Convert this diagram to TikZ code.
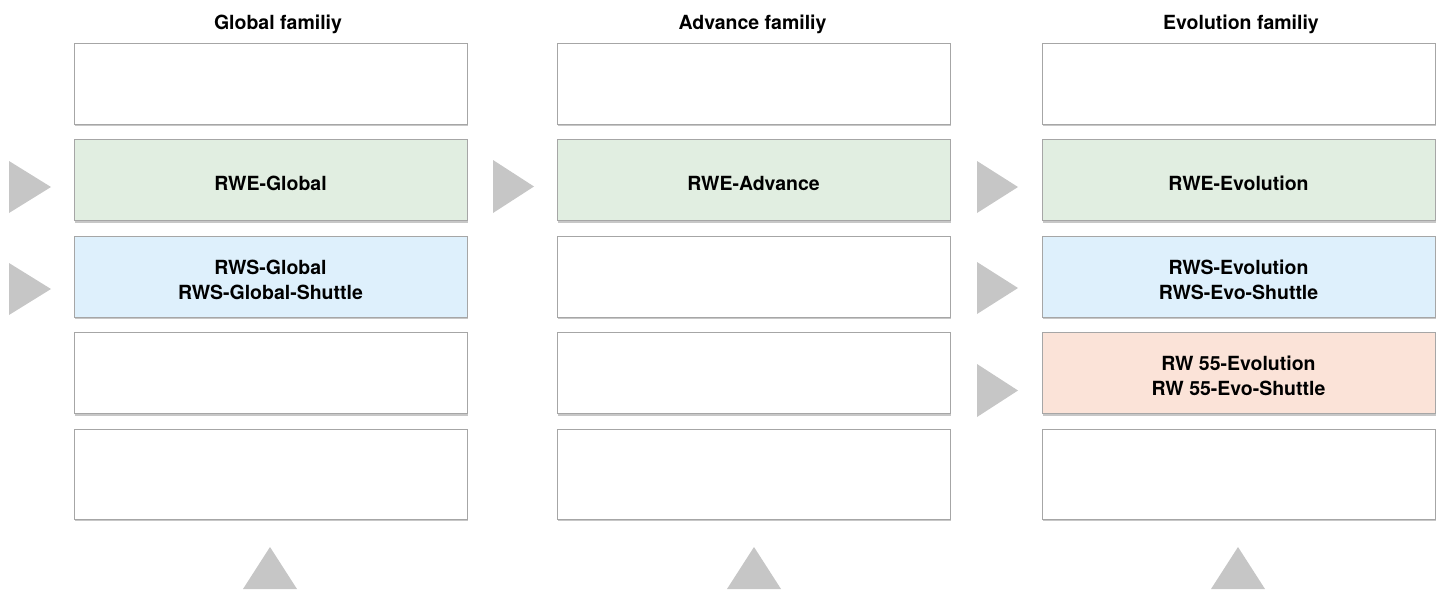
\documentclass[tikz,border=0pt]{standalone}
\usepackage{fontspec}
\setmainfont{TeX Gyre Heros}
\usetikzlibrary{shadows}
\definecolor{boxline}{HTML}{A6A6A6}
\definecolor{greenfill}{HTML}{E1EEE1}
\definecolor{bluefill}{HTML}{DEF0FC}
\definecolor{salmonfill}{HTML}{FBE3D8}
\definecolor{trigray}{HTML}{C6C6C6}
\tikzset{
  box/.style={draw=boxline, line width=1pt, fill=white, minimum width=393pt, minimum height=81pt,
    inner sep=0pt,
    drop shadow={shadow xshift=1pt, shadow yshift=-2pt, opacity=0.22, fill=black}},
  boxtext/.style={align=center, inner sep=0pt, font=\fontsize{19.5}{25}\selectfont\bfseries},
  title/.style={anchor=base, font=\fontsize{19.5}{25}\selectfont\bfseries},
  tri/.style={fill=trigray, draw=none}
}
\begin{document}
\begin{tikzpicture}[x=1pt,y=-1pt]
\useasboundingbox (0,0) rectangle (1442,592);
% titles
\node[title] (t1) at (278,29) {Global familiy};
\node[title] (t2) at (752.5,29) {Advance familiy};
\node[title] (t3) at (1241,29) {Evolution familiy};
% column 1
\node[box] (a1) at (270.5,83.5) {};
\node[box, fill=greenfill] (a2) at (270.5,180) {};
\node[box, fill=bluefill] (a3) at (270.5,276.5) {};
\node[box] (a4) at (270.5,373) {};
\node[box, minimum height=90pt] (a5) at (270.5,474) {};
% column 2
\node[box] (b1) at (753.5,83.5) {};
\node[box, fill=greenfill] (b2) at (753.5,180) {};
\node[box] (b3) at (753.5,276.5) {};
\node[box] (b4) at (753.5,373) {};
\node[box, minimum height=90pt] (b5) at (753.5,474) {};
% column 3
\node[box] (c1) at (1238.5,83.5) {};
\node[box, fill=greenfill] (c2) at (1238.5,180) {};
\node[box, fill=bluefill] (c3) at (1238.5,276.5) {};
\node[box, fill=salmonfill] (c4) at (1238.5,373) {};
\node[box, minimum height=90pt] (c5) at (1238.5,474) {};
% box texts
\node[boxtext] (a2t) at ([yshift=-3pt]a2.center) {RWE-Global};
\node[boxtext] (a3t) at ([yshift=-3pt]a3.center) {RWS-Global\\RWS-Global-Shuttle};
\node[boxtext] (b2t) at ([yshift=-3pt]b2.center) {RWE-Advance};
\node[boxtext] (c2t) at ([yshift=-3pt]c2.center) {RWE-Evolution};
\node[boxtext] (c3t) at ([yshift=-3pt]c3.center) {RWS-Evolution\\RWS-Evo-Shuttle};
\node[boxtext] (c4t) at ([yshift=-3pt]c4.center) {RW 55-Evolution\\RW 55-Evo-Shuttle};
% right-pointing triangles
\fill[tri] (9,161) -- (51,187) -- (9,213) -- cycle;
\fill[tri] (9,263) -- (51,289) -- (9,315) -- cycle;
\fill[tri] (493,160) -- (534,186.5) -- (493,213) -- cycle;
\fill[tri] (977,161) -- (1018,187) -- (977,213) -- cycle;
\fill[tri] (977,262) -- (1018,288) -- (977,314) -- cycle;
\fill[tri] (977,364) -- (1018,390.5) -- (977,417) -- cycle;
% up-pointing triangles
\fill[tri] (243,589) -- (270,547) -- (297,589) -- cycle;
\fill[tri] (727,589) -- (754,547) -- (781,589) -- cycle;
\fill[tri] (1211,589) -- (1238,547) -- (1265,589) -- cycle;
\end{tikzpicture}
\end{document}
